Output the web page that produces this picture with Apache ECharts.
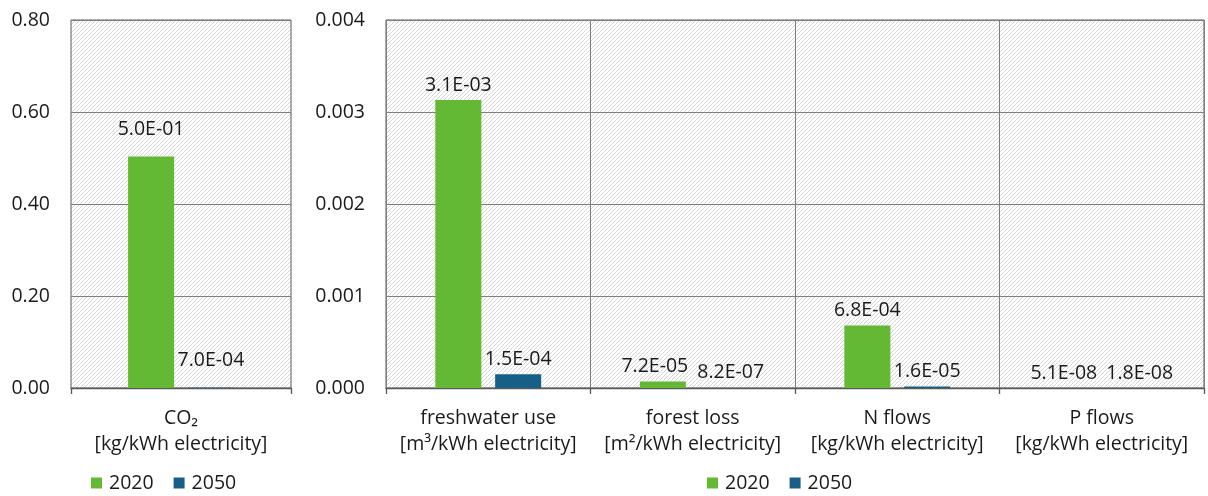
<!DOCTYPE html>
<html><head><meta charset="utf-8">
<script src="https://cdn.jsdelivr.net/npm/echarts@6/dist/echarts.min.js"></script>
<style>html,body{margin:0;padding:0;background:#fff;}#c{width:1208px;height:496px;}</style>
</head><body><div id="c"></div>
<script>
// ---- data ----
const leftCategories = ['{a|CO₂}\n[kg/kWh electricity]'];
const left2020 = [0.503];
const left2050 = [0.0007];
const rightCategories = [
  'freshwater use\n[m³/kWh electricity]',
  'forest loss\n[m²/kWh electricity]',
  'N flows\n[kg/kWh electricity]',
  'P flows\n[kg/kWh electricity]'
];
const right2020 = [0.00313, 0.000072, 0.00068, 0.000000051];
const right2050 = [0.00015, 0.00000082, 0.000016, 0.000000018];
const leftTicks = { min: 0, max: 0.8, interval: 0.2, digits: 2 };
const rightTicks = { min: 0, max: 0.004, interval: 0.001, digits: 3 };
const seriesNames = ['2020', '2050'];
const colors = ['#63b933', '#185f87'];

// ---- hatch pattern ----
function makeHatch() {
  const s = 4;
  const cv = document.createElement('canvas');
  cv.width = s; cv.height = s;
  const ctx = cv.getContext('2d');
  ctx.fillStyle = '#ffffff';
  ctx.fillRect(0, 0, s, s);
  ctx.strokeStyle = '#d6d6d6';
  ctx.lineWidth = 1;
  ctx.beginPath();
  ctx.moveTo(-1, s + 1); ctx.lineTo(s + 1, -1);
  ctx.moveTo(-1, 1); ctx.lineTo(1, -1);
  ctx.moveTo(s - 1, s + 1); ctx.lineTo(s + 1, s - 1);
  ctx.stroke();
  return cv;
}
const hatch = { image: makeHatch(), repeat: 'repeat' };

const FONT = 'Open Sans';
const FS = 19.5;
const txt = '#1a1a1a';

function sci(v) {
  const parts = v.toExponential(1).split('e');
  let e = parseInt(parts[1], 10);
  const neg = e < 0;
  e = Math.abs(e);
  return parts[0] + 'E' + (neg ? '-' : '+') + (e < 10 ? '0' + e : '' + e);
}

function xAx(gi, cats) {
  return {
    type: 'category', gridIndex: gi, data: cats,
    axisLine: { lineStyle: { color: '#595959', width: 1.3 } },
    axisTick: { show: true, length: 6, lineStyle: { color: '#595959', width: 1.3 } },
    splitLine: { show: gi === 1, lineStyle: { color: '#7f7f7f', width: 1 } },
    axisLabel: {
      fontFamily: FONT, fontSize: FS, color: txt, lineHeight: 26, margin: 17,
      interval: 0, align: 'center',
      rich: { a: { fontFamily: FONT, fontSize: FS, color: txt, lineHeight: 26 } }
    }
  };
}
function yAx(gi, t) {
  return {
    type: 'value', gridIndex: gi, min: t.min, max: t.max, interval: t.interval,
    axisLine: { show: false }, axisTick: { show: false },
    splitLine: { lineStyle: { color: '#808080', width: 1 } },
    axisLabel: {
      fontFamily: FONT, fontSize: FS, color: txt, margin: 21,
      formatter: v => v.toFixed(t.digits)
    }
  };
}
// labels of neighbouring short bars are pushed apart (as the spreadsheet does)
function labelShift(own, other, max, sign) {
  return own.map((v, i) => {
    const d = Math.abs(v - other[i]) / max * 368;
    return d < 24 ? sign * 8 : 0;
  });
}
function bar(name, gi, data, other, max, sign, color, dist) {
  const shifts = labelShift(data, other, max, sign);
  return {
    name: name, type: 'bar', xAxisIndex: gi, yAxisIndex: gi,
    data: data.map((v, i) => ({ value: v, label: { offset: [shifts[i], 0] } })),
    barWidth: 46, barGap: '30%',
    itemStyle: { color: color },
    label: {
      show: true, position: 'top', distance: dist,
      fontFamily: FONT, fontSize: FS, color: txt,
      formatter: p => sci(p.value)
    }
  };
}

const chart = echarts.init(document.getElementById('c'));
chart.setOption({
  animation: false,
  backgroundColor: '#ffffff',
  grid: [
    { left: 71, right: 917, top: 20, bottom: 108, show: true, backgroundColor: hatch, borderColor: '#595959', borderWidth: 1 },
    { left: 386, right: 4, top: 20, bottom: 108, show: true, backgroundColor: hatch, borderColor: '#595959', borderWidth: 1 }
  ],
  legend: [
    { left: 91, top: 473, padding: 0, itemWidth: 11, itemHeight: 11, itemGap: 20, icon: 'rect',
      data: seriesNames, textStyle: { fontFamily: FONT, fontSize: FS, color: txt, padding: [0, 0, 0, 2] } },
    { left: 707, top: 473, padding: 0, itemWidth: 11, itemHeight: 11, itemGap: 20, icon: 'rect',
      data: seriesNames, textStyle: { fontFamily: FONT, fontSize: FS, color: txt, padding: [0, 0, 0, 2] } }
  ],
  xAxis: [xAx(0, leftCategories), xAx(1, rightCategories)],
  yAxis: [yAx(0, leftTicks), yAx(1, rightTicks)],
  series: [
    bar(seriesNames[0], 0, left2020, left2050, leftTicks.max, -1, colors[0], 17),
    bar(seriesNames[1], 0, left2050, left2020, leftTicks.max, 1, colors[1], 17),
    bar(seriesNames[0], 1, right2020, right2050, rightTicks.max, -1, colors[0], 5),
    bar(seriesNames[1], 1, right2050, right2020, rightTicks.max, 1, colors[1], 5)
  ]
});
</script>
</body></html>
